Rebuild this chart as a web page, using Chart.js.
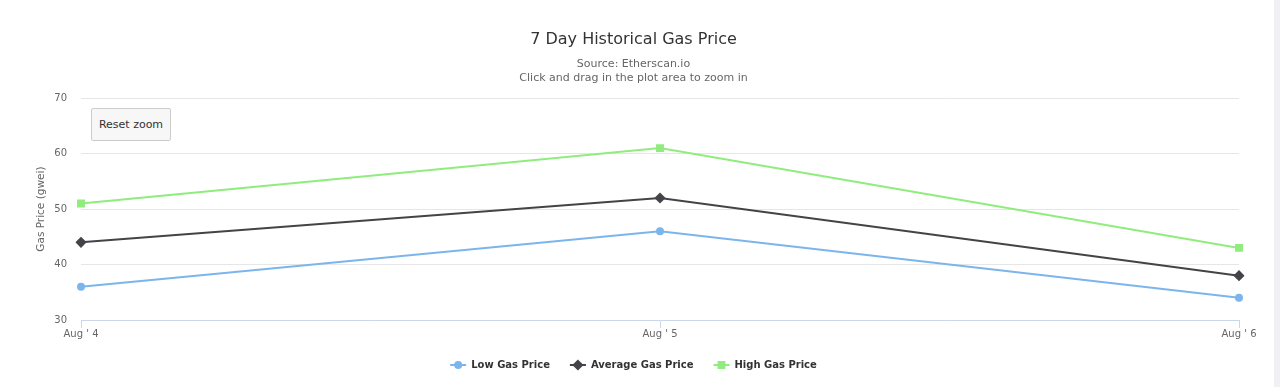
<!DOCTYPE html>
<html>
<head>
<meta charset="utf-8">
<script src="https://cdn.jsdelivr.net/npm/chart.js@4"></script>
<style>
  body { margin: 0; background: #fff; }
  #wrap { position: relative; width: 1274px; height: 387px; }
  #strip { position: absolute; left: 1274px; top: 0; width: 6px; height: 387px; background: #f1f1f5; }
  #reset {
    position: absolute; left: 91px; top: 108px; width: 80px; height: 33px;
    background: #f7f7f7; border: 1px solid #cccccc; border-radius: 2px;
    font: 11px "DejaVu Sans", sans-serif; color: #333; padding: 0;
  }
</style>
</head>
<body>
<div id="wrap">
  <canvas id="gasChart"></canvas>
  <button id="reset">Reset zoom</button>
</div>
<div id="strip"></div>
<script>
const days = ["Aug ' 4", "Aug ' 5", "Aug ' 6"]
const lowPrice = [36, 46, 34]
const avgPrice = [44, 52, 38]
const highPrice = [51, 61, 43]
const yTicks = [30, 40, 50, 60, 70]

const font = '"DejaVu Sans", sans-serif'

// draw the marker on top of the legend line, like highcharts does
const legendMarkers = {
    id: 'legendMarkers',
    afterDraw(chart) {
        const legend = chart.legend
        if (!legend || !legend.legendHitBoxes) return
        const ctx = chart.ctx
        legend.legendItems.forEach((item, i) => {
            const box = legend.legendHitBoxes[i]
            const ds = chart.data.datasets[item.datasetIndex]
            const x = box.left + 8
            const y = box.top + box.height / 2
            ctx.save()
            ctx.fillStyle = ds.borderColor
            ctx.strokeStyle = ds.borderColor
            Chart.helpers.drawPoint(ctx, { pointStyle: ds.pointStyle, radius: ds.pointRadius, borderWidth: 0 }, x, y)
            ctx.restore()
        })
    }
}

const ctx = document.getElementById('gasChart').getContext('2d')
const chart = new Chart(ctx, {
    type: 'line',
    data: {
        labels: days,
        datasets: [{
            label: 'Low Gas Price',
            data: lowPrice,
            borderColor: '#7cb5ec',
            backgroundColor: '#7cb5ec',
            pointStyle: 'circle',
            pointRadius: 4
        }, {
            label: 'Average Gas Price',
            data: avgPrice,
            borderColor: '#434348',
            backgroundColor: '#434348',
            pointStyle: 'rectRot',
            pointRadius: 5.6
        }, {
            label: 'High Gas Price',
            data: highPrice,
            borderColor: '#90ed7d',
            backgroundColor: '#90ed7d',
            pointStyle: 'rect',
            pointRadius: 5.6
        }]
    },
    options: {
        responsive: true,
        maintainAspectRatio: false,
        animation: false,
        elements: {
            line: { borderWidth: 2, tension: 0 },
            point: { borderWidth: 0, hoverRadius: 5 }
        },
        layout: { padding: { right: 7, bottom: 7 } },
        plugins: {
            title: {
                display: true,
                text: '7 Day Historical Gas Price',
                color: '#333333',
                font: { family: font, size: 16, weight: 'normal' },
                padding: { top: 30, bottom: 8 }
            },
            subtitle: {
                display: true,
                text: ['Source: Etherscan.io', 'Click and drag in the plot area to zoom in'],
                color: '#666666',
                font: { family: font, size: 11, lineHeight: '14px' },
                padding: { top: 0, bottom: 13 }
            },
            legend: {
                position: 'bottom',
                labels: {
                    color: '#333333',
                    font: { family: font, size: 10, weight: 'bold' },
                    usePointStyle: true,
                    pointStyleWidth: 16,
                    padding: 20,
                    generateLabels(chart) {
                        return chart.data.datasets.map((ds, i) => ({
                            text: ds.label,
                            datasetIndex: i,
                            fillStyle: ds.borderColor,
                            strokeStyle: ds.borderColor,
                            fontColor: '#333333',
                            lineWidth: 2,
                            pointStyle: 'line'
                        }))
                    }
                }
            },
            tooltip: { enabled: false }
        },
        scales: {
            x: {
                offset: false,
                grid: {
                    drawOnChartArea: false,
                    drawTicks: true,
                    tickLength: 8,
                    color: '#ccd6eb'
                },
                border: { color: '#ccd6eb', width: 1 },
                ticks: {
                    color: '#666666',
                    padding: 0,
                    maxRotation: 0,
                    font: { family: font, size: 10 }
                },
                afterFit(scale) { scale.height = 20 }
            },
            y: {
                min: 30,
                max: 70,
                afterBuildTicks(scale) { scale.ticks = yTicks.map(v => ({ value: v })) },
                grid: {
                    drawTicks: false,
                    color: c => c.tick && c.tick.value === 30 ? 'rgba(0,0,0,0)' : '#e6e6e6'
                },
                border: { display: false },
                ticks: {
                    color: '#666666',
                    padding: 14,
                    font: { family: font, size: 10 }
                },
                title: {
                    display: true,
                    text: 'Gas Price (gwei)',
                    color: '#666666',
                    font: { family: font, size: 10.5 },
                    padding: { top: 35, bottom: 0 }
                },
                afterFit(scale) { scale.width = 81 }
            },
            // empty axis on the right, keeps the plot end where it is in the original
            yRight: {
                position: 'right',
                min: 30,
                max: 70,
                grid: { drawOnChartArea: false, drawTicks: false },
                border: { display: false },
                ticks: { display: false },
                afterFit(scale) { scale.width = 28 }
            }
        }
    },
    plugins: [legendMarkers]
})
</script>
</body>
</html>
